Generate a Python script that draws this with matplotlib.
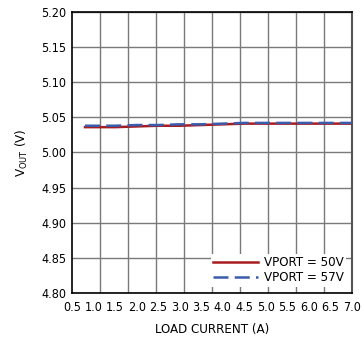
import numpy as np
import matplotlib
matplotlib.use("Agg")
import matplotlib.pyplot as plt
from matplotlib.ticker import FixedLocator, NullFormatter

plt.rcParams['font.family'] = ['DejaVu Sans']
plt.rcParams['font.stretch'] = 'condensed'

# --- data ---
load_current = [0.8, 1.5, 2.0, 2.5, 3.0, 3.5, 4.0, 4.5, 5.0, 5.5, 6.0, 6.5, 7.0]
vout_50v = [5.036, 5.036, 5.037, 5.038, 5.038, 5.039, 5.040, 5.041, 5.041, 5.041, 5.041, 5.041, 5.041]
vout_57v = [5.038, 5.038, 5.039, 5.039, 5.040, 5.040, 5.041, 5.042, 5.042, 5.042, 5.042, 5.042, 5.042]

x_ticks = np.arange(0.5, 7.01, 0.5)
y_ticks = np.arange(4.80, 5.201, 0.05)

fig = plt.figure(figsize=(3.64, 3.41), dpi=100)
ax = fig.add_axes([0.198, 0.141, 0.769, 0.824])

ax.plot(load_current, vout_50v, color='#a81c20', lw=1.8, label='VPORT = 50V', zorder=3)
ax.plot(load_current, vout_57v, color='#3a5cab', lw=1.8, ls=(0, (6, 2.5)), label='VPORT = 57V', zorder=4)

ax.set_xlim(0.5, 7.0)
ax.set_ylim(4.80, 5.20)
ax.set_xticks(x_ticks)
ax.set_xticklabels([f"{v:.1f}" for v in x_ticks])
ax.set_yticks(y_ticks)
ax.set_yticklabels([f"{v:.2f}" for v in y_ticks])
# vertical grid is 10 equal divisions, independent of the labels
ax.xaxis.set_minor_locator(FixedLocator(np.linspace(0.5, 7.0, 11)))
ax.xaxis.set_minor_formatter(NullFormatter())
ax.grid(False)
ax.grid(True, which='minor', axis='x', color='#7a7a7a', lw=1.0)
ax.grid(True, which='major', axis='y', color='#7a7a7a', lw=1.0)
ax.tick_params(which='both', length=0, labelsize=9, pad=4)
ax.tick_params(axis='x', pad=6)

for s in ['left', 'bottom', 'top']:
    ax.spines[s].set_color('black')
    ax.spines[s].set_linewidth(1.2)
ax.spines['right'].set_color('#555555')
ax.spines['right'].set_linewidth(1.5)

ax.set_xlabel('LOAD CURRENT (A)', fontsize=9.5, labelpad=6)
ax.set_ylabel(r'V$_{\mathregular{OUT}}$ (V)', fontsize=9.5, labelpad=8)

leg = ax.legend(loc='lower right', fontsize=9.5, frameon=True, fancybox=False,
                handlelength=3.4, handletextpad=0.4, borderpad=0.2,
                labelspacing=0.15, borderaxespad=0.45)
leg.get_frame().set_edgecolor('none')
leg.get_frame().set_facecolor('white')
leg.get_frame().set_alpha(1.0)

fig.savefig('out.png', dpi=100)
